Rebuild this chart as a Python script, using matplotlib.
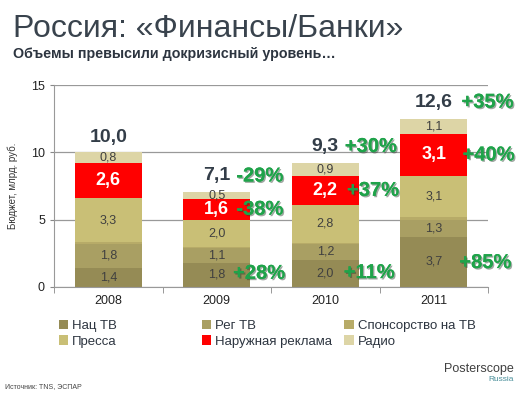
"""Россия: «Финансы/Банки» — stacked bars of ad budget by media, 2008–2011."""
import matplotlib
matplotlib.use("Agg")
import matplotlib.pyplot as plt
import matplotlib.patheffects as pe
from matplotlib.patches import Patch
import numpy as np

plt.rcParams["font.family"] = ["Liberation Sans", "DejaVu Sans"]

years = ["2008", "2009", "2010", "2011"]
nat_tv = [1.4, 1.8, 2.0, 3.7]
reg_tv = [1.8, 1.1, 1.2, 1.3]
sponsor_tv = [0.12, 0.07, 0.08, 0.17]
press = [3.3, 2.0, 2.8, 3.1]
outdoor = [2.6, 1.6, 2.2, 3.1]
radio = [0.8, 0.5, 0.9, 1.1]
totals = [10.0, 7.1, 9.3, 12.6]

# growth vs previous year (None = not shown)
growth_total = [None, "-29%", "+30%", "+35%"]
growth_outdoor = [None, "-38%", "+37%", "+40%"]
growth_nat = [None, "+28%", "+11%", "+85%"]

series = [
    ("Нац ТВ", nat_tv, "#958B55", True),
    ("Рег ТВ", reg_tv, "#A99F63", True),
    ("Спонсорство на ТВ", sponsor_tv, "#B7AB68", False),
    ("Пресса", press, "#C9BF76", True),
    ("Наружная реклама", outdoor, "#FF0000", True),
    ("Радио", radio, "#DDD5A6", True),
]

DARK = "#333D48"
GREEN = "#1FA34A"

fig = plt.figure(figsize=(5.25, 3.94), dpi=100)
ax = fig.add_axes([0.1029, 0.2723, 0.8267, 0.511])

x = np.arange(len(years))
width = 0.62
bottom = np.zeros(len(years))
for name, vals, color, show in series:
    vals = np.array(vals)
    ax.bar(x, vals, width, bottom=bottom, color=color, zorder=2)
    if show:
        for i, v in enumerate(vals):
            yc = bottom[i] + v / 2
            lab = f"{v:.1f}".replace(".", ",")
            if color == "#FF0000":
                ax.text(x[i], yc, lab, ha="center", va="center", color="white",
                        fontsize=13, fontweight="bold", zorder=3)
            else:
                ax.text(x[i], yc, lab, ha="center", va="center", color="#404040",
                        fontsize=9, zorder=3)
    bottom += vals

shadow = [pe.withSimplePatchShadow(offset=(1, -1), shadow_rgbFace="#2A3D30", alpha=0.45), pe.Normal()]

total_y = [t + 1.15 for t in totals]
for i, t in enumerate(totals):
    ax.text(x[i], total_y[i], f"{t:.1f}".replace(".", ","), ha="center", va="center",
            color=DARK, fontsize=14, fontweight="bold", zorder=4)

out_mid = [nat_tv[i] + reg_tv[i] + sponsor_tv[i] + press[i] + outdoor[i] / 2 for i in range(len(years))]
nat_y = [1.0, 1.0, 1.05, 1.8]
total_dx = [0, 0.18, 0.18, 0.255]
side_dx = [0, 0.17, 0.19, 0.255]
for i in range(len(years)):
    if growth_total[i] is None:
        continue
    ax.text(x[i] + total_dx[i], total_y[i], growth_total[i], ha="left", va="center", color=GREEN,
            fontsize=14.5, fontweight="bold", path_effects=shadow, zorder=5)
    ax.text(x[i] + side_dx[i] + 0.01, out_mid[i], growth_outdoor[i], ha="left", va="center", color=GREEN,
            fontsize=14.5, fontweight="bold", path_effects=shadow, zorder=5)
    ax.text(x[i] + side_dx[i] - 0.02, nat_y[i], growth_nat[i], ha="left", va="center", color=GREEN,
            fontsize=14.5, fontweight="bold", path_effects=shadow, zorder=5)

ax.set_xlim(-0.5, 3.5)
ax.set_ylim(0, 15)
ax.set_yticks([0, 5, 10, 15])
ax.set_xticks(x)
ax.set_xticklabels(years)
ax.set_xticks([-0.5, 0.5, 1.5, 2.5, 3.5], minor=True)
ax.tick_params(axis="x", which="major", length=0, pad=6, labelsize=9, labelcolor="#222222")
ax.tick_params(axis="x", which="minor", length=4, color="#888888", direction="out")
ax.tick_params(axis="y", length=3, color="#888888", labelsize=9, labelcolor="#222222")
ax.yaxis.grid(True, color="#999999", lw=0.9, zorder=0)
for s in ("top", "right"):
    ax.spines[s].set_visible(False)
ax.spines["left"].set_color("#999999")
ax.spines["bottom"].set_color("#999999")
ax.set_ylabel("Бюджет, млрд. руб.", fontsize=7, color="#333333", labelpad=9)

# titles
fig.text(0.024, 0.905, "Россия: «Финансы/Банки»", fontsize=23, color="#39434D", va="baseline")
fig.text(0.024, 0.853, "Объемы превысили докризисный уровень…", fontsize=10.3, fontweight="bold",
         color="#2D3540", va="baseline")

# legend in three fixed columns
cols = [(0, 3), (1, 4), (2, 5)]
col_x = [0.112, 0.384, 0.656]
for (a, b), cx in zip(cols, col_x):
    handles = [Patch(facecolor=series[k][2], label=series[k][0]) for k in (a, b)]
    fig.legend(handles=handles, loc="upper left", bbox_to_anchor=(cx, 0.188), frameon=False,
               fontsize=9.5, handlelength=0.7, handleheight=0.7, handletextpad=0.3,
               labelspacing=0.25, borderpad=0, borderaxespad=0, labelcolor="#2D3540")

fig.text(0.978, 0.057, "Posterscope", fontsize=9, color="#404040", ha="right", va="baseline")
fig.text(0.978, 0.033, "Russia", fontsize=6, color="#4A8F9A", ha="right", va="baseline")
fig.text(0.01, 0.016, "Источник: TNS, ЭСПАР", fontsize=5, color="#444444", va="baseline")

fig.savefig("out.png", dpi=100)
